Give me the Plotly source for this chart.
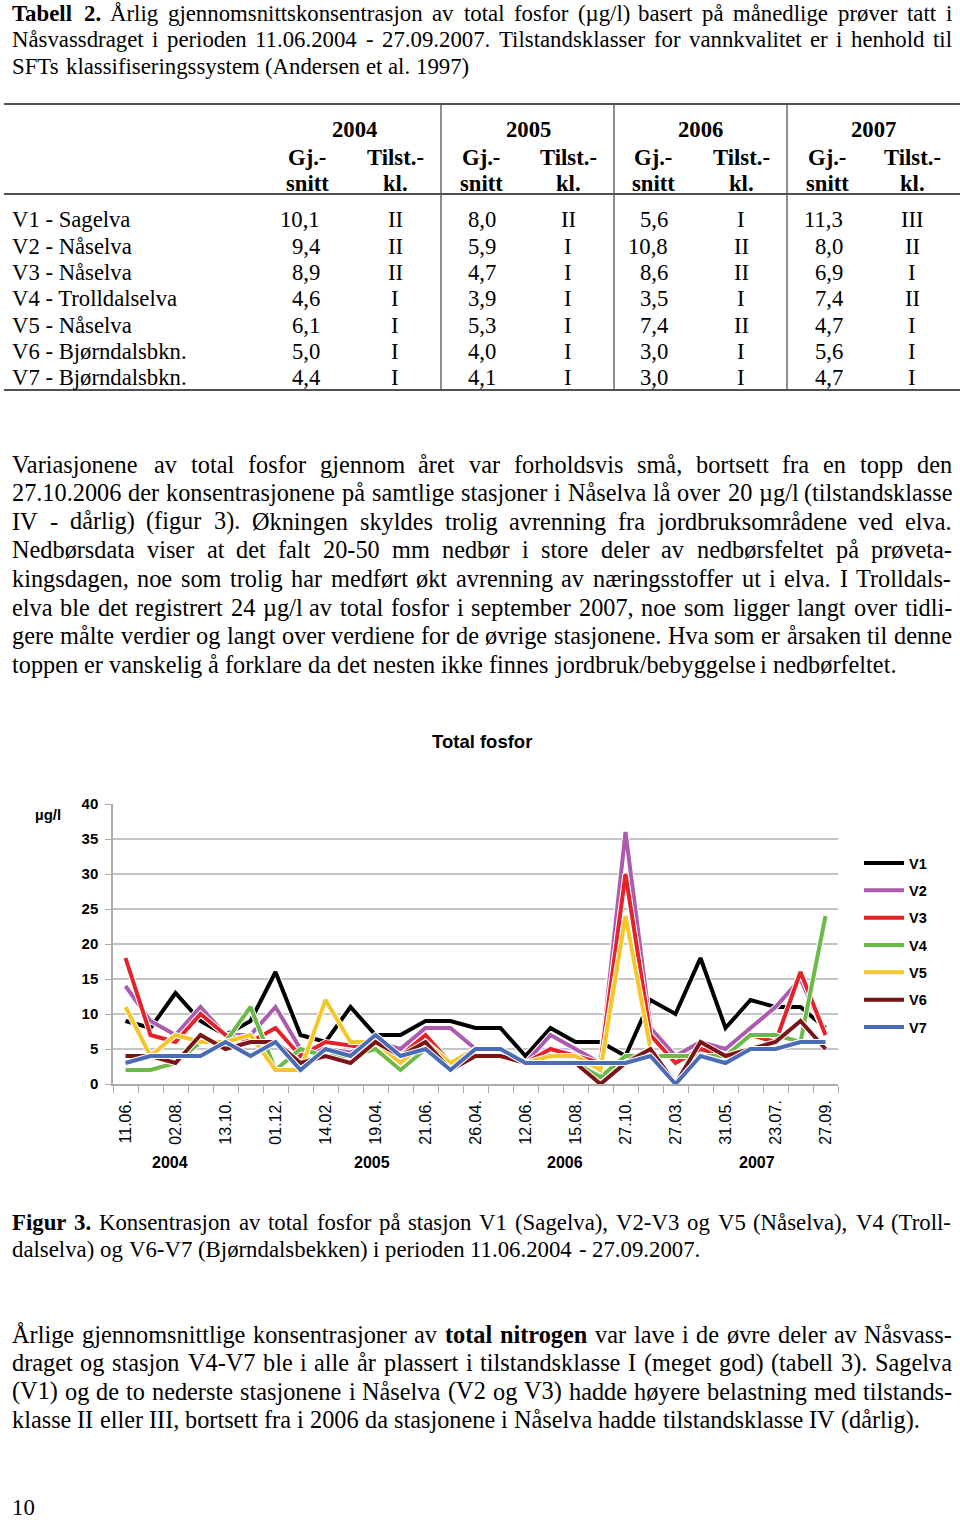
import plotly.graph_objects as go

W, H = 960, 1522

# ---------------- chart data ----------------
stations = ["V1", "V2", "V3", "V4", "V5", "V6", "V7"]
v1 = [9, 8, 13, 9, 7, 9, 16, 7, 6, 11, 7, 7, 9, 9, 8, 8, 4, 8, 6, 6, 4, 12, 10, 18, 8, 12, 11, 11, 8]
v2 = [14, 9, 7, 11, 7, 7, 11, 5, 5, 4.5, 6, 5, 8, 8, 5, 5, 3, 7, 5, 3, 36, 8, 4, 6, 5, 8, 11, 15, 7]
v3 = [18, 7, 6, 10, 7, 6, 8, 4, 6, 5.5, 5, 4, 7, 3, 5, 5, 3, 5, 4, 3, 30, 7, 3, 5, 4, 7, 6, 16, 7]
v4 = [2, 2, 3, 6, 6, 11, 2, 5, 4, 4, 5, 2, 5, 2, 4, 4, 3, 3, 3, 1, 4, 4, 4, 4, 4, 7, 7, 6, 24]
v5 = [11, 4, 7, 6, 6, 7, 2, 2, 12, 6, 6, 3, 6, 3, 5, 5, 3, 4, 4, 2, 24, 5, 0, 4, 3, 5, 5, 6, 6]
v6 = [4, 4, 3, 7, 5, 6, 6, 3, 4, 3, 6, 4, 6, 2, 4, 4, 3, 3, 3, 0, 3, 5, 0, 6, 4, 5, 6, 9, 5]
v7 = [3, 4, 4, 4, 6, 4, 6, 2, 5, 4, 7, 4, 5, 2, 5, 5, 3, 3, 3, 3, 3, 4, 0, 4, 3, 5, 5, 6, 6]
series = [v1, v2, v3, v4, v5, v6, v7]
colors = ["#000000", "#AD5BAE", "#E52229", "#6BBA48", "#F4C62A", "#7A1417", "#4A6CB6"]
tick_labels = ["11.06.", "02.08.", "13.10.", "01.12.", "14.02.", "19.04.", "21.06.", "26.04.",
               "12.06.", "15.08.", "27.10.", "27.03.", "31.05.", "23.07.", "27.09."]
label_step = 2
year_labels = ["2004", "2005", "2006", "2007"]

# ---------------- table data ----------------
table_rows = ["V1 - Sagelva", "V2 - Nåselva", "V3 - Nåselva", "V4 - Trolldalselva",
              "V5 - Nåselva", "V6 - Bjørndalsbkn.", "V7 - Bjørndalsbkn."]
table_years = ["2004", "2005", "2006", "2007"]
mean_2004 = [10.1, 9.4, 8.9, 4.6, 6.1, 5.0, 4.4]
mean_2005 = [8.0, 5.9, 4.7, 3.9, 5.3, 4.0, 4.1]
mean_2006 = [5.6, 10.8, 8.6, 3.5, 7.4, 3.0, 3.0]
mean_2007 = [11.3, 8.0, 6.9, 7.4, 4.7, 5.6, 4.7]
class_2004 = ["II", "II", "II", "I", "I", "I", "I"]
class_2005 = ["II", "I", "I", "I", "I", "I", "I"]
class_2006 = ["I", "II", "II", "I", "II", "I", "I"]
class_2007 = ["III", "II", "I", "II", "I", "I", "I"]

# ---------------- text ----------------
caption_tab = [
    "**Tabell 2.** Årlig gjennomsnittskonsentrasjon av total fosfor (µg/l) basert på månedlige prøver tatt i",
    "Nåsvassdraget i perioden 11.06.2004 - 27.09.2007. Tilstandsklasser for vannkvalitet er i henhold til",
    "SFTs klassifiseringssystem (Andersen et al. 1997)",
]
para1 = [
    "Variasjonene av total fosfor gjennom året var forholdsvis små, bortsett fra en topp den",
    "27.10.2006 der konsentrasjonene på samtlige stasjoner i Nåselva lå over 20 µg/l (tilstandsklasse",
    "IV - dårlig) (figur 3). Økningen skyldes trolig avrenning fra jordbruksområdene ved elva.",
    "Nedbørsdata viser at det falt 20-50 mm nedbør i store deler av nedbørsfeltet på prøveta-",
    "kingsdagen, noe som trolig har medført økt avrenning av næringsstoffer ut i elva. I Trolldals-",
    "elva ble det registrert 24 µg/l av total fosfor i september 2007, noe som ligger langt over tidli-",
    "gere målte verdier og langt over verdiene for de øvrige stasjonene. Hva som er årsaken til denne",
    "toppen er vanskelig å forklare da det nesten ikke finnes jordbruk/bebyggelse i nedbørfeltet.",
]
caption_fig = [
    "**Figur 3.** Konsentrasjon av total fosfor på stasjon V1 (Sagelva), V2-V3 og V5 (Nåselva), V4 (Troll-",
    "dalselva) og V6-V7 (Bjørndalsbekken) i perioden 11.06.2004 - 27.09.2007.",
]
para2 = [
    "Årlige gjennomsnittlige konsentrasjoner av **total nitrogen** var lave i de øvre deler av Nåsvass-",
    "draget og stasjon V4-V7 ble i alle år plassert i tilstandsklasse I (meget god) (tabell 3). Sagelva",
    "(V1) og de to nederste stasjonene i Nåselva (V2 og V3) hadde høyere belastning med tilstands-",
    "klasse II eller III, bortsett fra i 2006 da stasjonene i Nåselva hadde tilstandsklasse IV (dårlig).",
]
page_number = "10"

# ---------------- font metrics (Times) for justification ----------------
TR = {" ": 250, "(": 333, ")": 333, ",": 250, "-": 333, ".": 250, "/": 278, ":": 278,
      "A": 722, "B": 667, "C": 667, "D": 722, "E": 611, "F": 556, "G": 722, "H": 722, "I": 333,
      "J": 389, "K": 722, "L": 611, "M": 889, "N": 722, "O": 722, "P": 556, "Q": 722, "R": 667,
      "S": 556, "T": 611, "U": 722, "V": 722, "W": 944, "X": 722, "Y": 722, "Z": 611,
      "a": 444, "b": 500, "c": 444, "d": 500, "e": 444, "f": 333, "g": 500, "h": 500, "i": 278,
      "j": 278, "k": 500, "l": 278, "m": 778, "n": 500, "o": 500, "p": 500, "q": 500, "r": 333,
      "s": 389, "t": 278, "u": 500, "v": 500, "w": 722, "x": 500, "y": 500, "z": 444,
      "Å": 722, "å": 444, "Ø": 722, "ø": 500, "Æ": 889, "æ": 667, "µ": 500}
for d in "0123456789":
    TR[d] = 500
TB = dict(TR)
TB.update({":": 333, "B": 667, "C": 722, "E": 667, "F": 611, "G": 778, "H": 778, "I": 389,
           "J": 500, "K": 778, "L": 667, "M": 944, "O": 778, "P": 611, "Q": 778, "R": 722,
           "T": 667, "W": 1000, "Z": 667, "a": 500, "b": 556, "d": 556, "h": 556, "j": 333,
           "k": 556, "m": 833, "n": 556, "p": 556, "q": 556, "r": 444, "t": 333, "u": 556})


def text_w(s, bold, size):
    t = TB if bold else TR
    return sum(t.get(c, 500) for c in s) * size / 1000.0


def parse(line):
    words = []
    for k, seg in enumerate(line.split("**")):
        bold = (k % 2 == 1)
        for w in seg.split():
            words.append((w, bold))
    return words


SERIF = "Liberation Serif, Times New Roman, serif"
SANS = "Liberation Sans, Arial, sans-serif"
annotations = []


def px(x):
    return x / W


def py(y):
    return 1 - y / H


def add_text(text, x, y, size, family=SERIF, bold=False, anchor="left", color="black"):
    annotations.append(dict(
        text=f"<b>{text}</b>" if bold else text, x=px(x), y=py(y), xref="paper", yref="paper",
        xanchor=anchor, yanchor="middle", showarrow=False, borderpad=0, borderwidth=0,
        font=dict(family=family, size=size, color=color)))


def add_line(line, y, size, justify, x0=12, x1=952):
    words = parse(line)
    widths = [text_w(w, b, size) for w, b in words]
    if justify and len(words) > 1:
        gap = (x1 - x0 - sum(widths)) / (len(words) - 1)
    else:
        gap = 250 * size / 1000.0
    x = x0
    for (w, b), wd in zip(words, widths):
        add_text(w, x, y, size, bold=b)
        x += wd + gap


def add_block(lines, y0, dy, size):
    for k, line in enumerate(lines):
        add_line(line, y0 + k * dy, size, justify=(k < len(lines) - 1))


add_block(caption_tab, 13, 27, 22.8)
add_block(para1, 464, 28.6, 24.3)
add_block(caption_fig, 1222, 27, 22.8)
add_block(para2, 1334, 28.6, 24.3)
add_text(page_number, 12, 1507, 22.8)

# ---------------- table ----------------
shapes = []
line_col = "#505050"
for yy in (104, 194, 390):
    shapes.append(dict(type="line", xref="paper", yref="paper", x0=px(4), x1=px(960),
                       y0=py(yy), y1=py(yy), line=dict(color=line_col, width=2)))
for xx in (441, 614, 787):
    shapes.append(dict(type="line", xref="paper", yref="paper", x0=px(xx), x1=px(xx),
                       y0=py(104), y1=py(390), line=dict(color=line_col, width=1.3)))

year_cx = [354, 528, 700, 873]
gj_cx = [307, 481, 653, 827]
tilst_cx = [395, 568, 741, 912]
num_right = [320, 496, 668, 843]
TS = 22.7
for k, yr in enumerate(table_years):
    add_text(yr, year_cx[k], 130, TS, bold=True, anchor="center")
    add_text("Gj.-", gj_cx[k], 157, TS, bold=True, anchor="center")
    add_text("snitt", gj_cx[k], 183, TS, bold=True, anchor="center")
    add_text("Tilst.-", tilst_cx[k], 157, TS, bold=True, anchor="center")
    add_text("kl.", tilst_cx[k], 183, TS, bold=True, anchor="center")

means = [mean_2004, mean_2005, mean_2006, mean_2007]
classes = [class_2004, class_2005, class_2006, class_2007]
row_y0, row_dy = 220, 26.3
for r, name in enumerate(table_rows):
    yy = row_y0 + r * row_dy
    add_text(name, 12, yy, TS)
    for k in range(4):
        add_text(f"{means[k][r]:.1f}".replace(".", ","), num_right[k], yy, TS, anchor="right")
        add_text(classes[k][r], tilst_cx[k], yy, TS, anchor="center")

# ---------------- chart ----------------
X0, X1 = 113, 838
Y_TOP, Y_BOT = 804, 1084
n = len(v1)
xs = list(range(n))

fig = go.Figure()
for name, vals, col in zip(stations, series, colors):
    fig.add_trace(go.Scatter(x=xs, y=vals, mode="lines", line=dict(color="white", width=6),
                             showlegend=False, hoverinfo="skip", legendgroup=name))
    fig.add_trace(go.Scatter(x=xs, y=vals, mode="lines", name=name, legendgroup=name,
                             line=dict(color=col, width=4)))

add_text("Total fosfor", 482, 741, 18.5, family=SANS, bold=True, anchor="center")
add_text("µg/l", 48, 814, 15, family=SANS, bold=True, anchor="center")
for yl, xc in zip(year_labels, [170, 372, 565, 757]):
    add_text(yl, xc, 1162, 16, family=SANS, bold=True, anchor="center")

grid_col = "#C4C4C4"
axis_col = "#ABABAB"
fig.update_layout(
    width=W, height=H, margin=dict(l=0, r=0, t=0, b=0, autoexpand=False),
    paper_bgcolor="white", plot_bgcolor="white",
    annotations=annotations, shapes=shapes,
    xaxis=dict(domain=[px(X0), px(X1)], range=[-0.5, n - 0.5], showgrid=False, zeroline=False,
               showline=True, linecolor=axis_col, linewidth=1.5,
               tickmode="array", tickvals=xs[::label_step], ticktext=tick_labels,
               ticks="", tickangle=-90, ticklabelstandoff=8,
               tickfont=dict(family=SANS, size=16, color="black"),
               minor=dict(tickmode="array", tickvals=[i - 0.5 for i in range(n + 1)],
                          ticks="outside", ticklen=7, tickcolor=axis_col, tickwidth=1.3,
                          showgrid=False)),
    yaxis=dict(domain=[py(Y_BOT), py(Y_TOP)], range=[0, 40], dtick=5, tick0=0,
               showgrid=True, gridcolor=grid_col, gridwidth=1.6, zeroline=False,
               showline=True, linecolor=axis_col, linewidth=1.5,
               ticks="outside", ticklen=6, tickcolor=axis_col, tickwidth=1.3,
               ticklabelstandoff=4,
               tickfont=dict(family=SANS, size=15, color="black", weight="bold")),
    legend=dict(x=px(859), xanchor="left", y=py(847), yanchor="top",
                font=dict(family=SANS, size=14.5, color="black", weight="bold"),
                itemwidth=40, tracegroupgap=5.5, bgcolor="rgba(0,0,0,0)", borderwidth=0),
    showlegend=True,
)

fig.write_html("out.html", config={"displayModeBar": False},
               post_script="document.body.style.margin='0';document.body.style.overflow='hidden';")
